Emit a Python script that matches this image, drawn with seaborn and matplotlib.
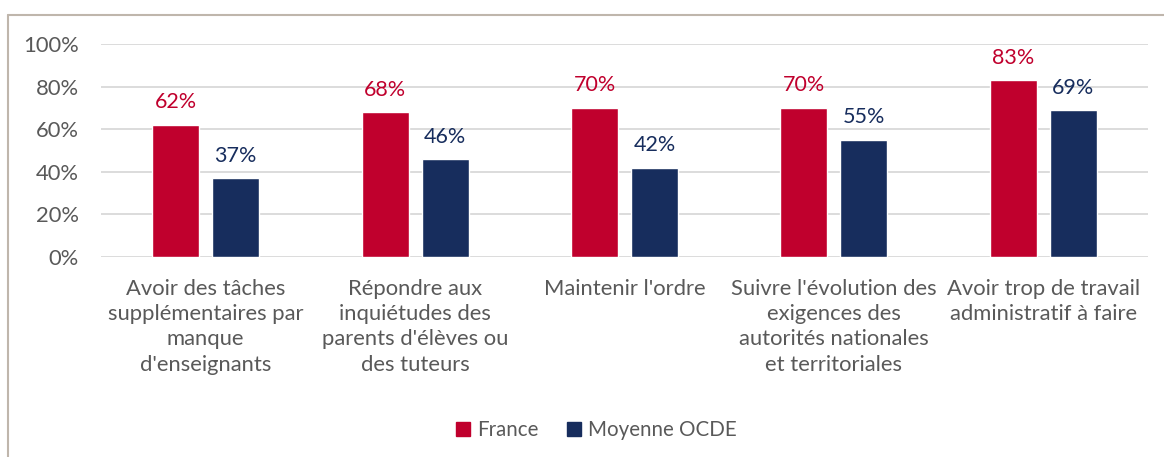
import pandas as pd
import numpy as np
import matplotlib
matplotlib.use("Agg")
import matplotlib.pyplot as plt
import seaborn as sns
from matplotlib.lines import Line2D

# data
categories = [
    "Avoir des tâches\nsupplémentaires par\nmanque\nd'enseignants",
    "Répondre aux\ninquiétudes des\nparents d'élèves ou\ndes tuteurs",
    "Maintenir l'ordre",
    "Suivre l'évolution des\nexigences des\nautorités nationales\net territoriales",
    "Avoir trop de travail\nadministratif à faire",
]
france = [62, 68, 70, 70, 83]
ocde = [37, 46, 42, 55, 69]
series = ["France", "Moyenne OCDE"]
colors = ["#C0002D", "#172D5D"]

df = pd.DataFrame({
    "cat": categories * 2,
    "val": france + ocde,
    "serie": [series[0]] * 5 + [series[1]] * 5,
})

sns.set_style("white")
plt.rcParams['font.family'] = ['Lato', 'DejaVu Sans']

fig = plt.figure(figsize=(11.64, 4.57), dpi=100)
ax = fig.add_axes([0.0868, 0.4376, 0.8995, 0.4661])

sns.barplot(data=df, x="cat", y="val", hue="serie", palette=colors,
            width=0.573, gap=0.217, ax=ax, saturation=1, legend=False)

ax.set_ylim(0, 100)
ax.set_yticks(np.arange(0, 101, 20))
ax.set_yticklabels([f"{v}%" for v in range(0, 101, 20)])
ax.yaxis.grid(True, color="#D9D9D9", linewidth=1.3)
ax.set_axisbelow(True)
for s in ax.spines.values():
    s.set_visible(False)
ax.set_xlabel("")
ax.set_ylabel("")
ax.tick_params(axis="both", length=0, labelcolor="#595959")
ax.tick_params(axis="x", pad=16, labelsize=15.8)
ax.tick_params(axis="y", pad=16, labelsize=15.8)
for t in ax.get_xticklabels():
    t.set_linespacing(1.32)

# data labels
for cont, col in zip(ax.containers, colors):
    ax.bar_label(cont, labels=[f"{v:.0f}%" for v in cont.datavalues],
                 padding=9, fontsize=15.5, color=col)

# legend
handles = [Line2D([], [], marker="s", linestyle="", markersize=10,
                  color=c) for c in colors]
fig.legend(handles, series, loc="center", bbox_to_anchor=(0.512, 0.058),
           ncol=2, frameon=False, fontsize=14.8, handlelength=0.8,
           handletextpad=0.3, columnspacing=1.3, labelcolor="#595959")

# outer frame (top and left)
fig.add_artist(Line2D([0.0069, 1.0], [0.967, 0.967], color="#BFB6AC", lw=1.5,
                      transform=fig.transFigure))
fig.add_artist(Line2D([0.0069, 0.0069], [0.0, 0.967], color="#BFB6AC", lw=1.5,
                      transform=fig.transFigure))

fig.savefig("out.png", dpi=100)
